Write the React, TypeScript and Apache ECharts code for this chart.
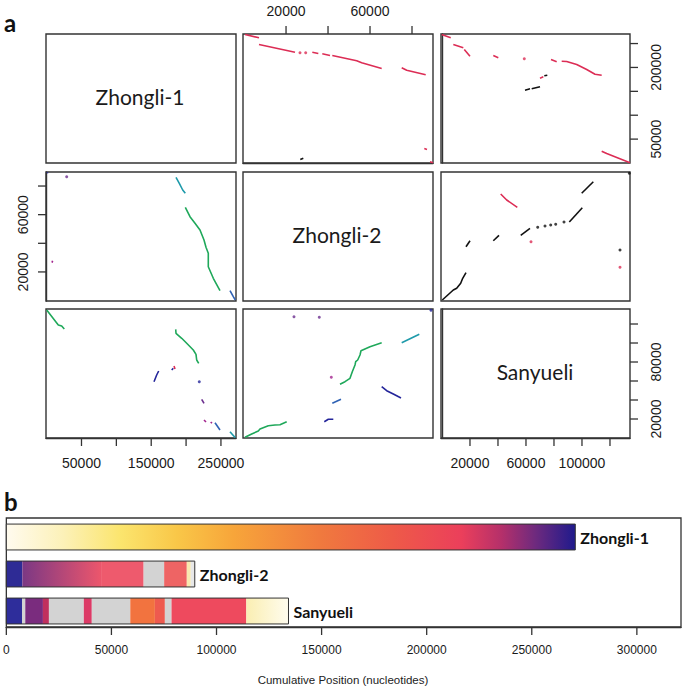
import React, { useEffect, useRef } from 'react';
import * as echarts from 'echarts';

// ---------- Genomes & axis ranges ----------
const genomes = ['Zhongli-1', 'Zhongli-2', 'Sanyueli'];
const colMin = [-900, -500, -700];
const colMax = [271600, 90000, 134300];
const rowMin = [0, -300, 0];
const rowMax = [270000, 89800, 135800];

// outer tick/label values
const z2TopTicks = [20000, 40000, 60000, 80000];
const z2TopLabels = [20000, 60000];
const z2LeftTicks = [20000, 40000, 60000, 80000];
const z2LeftLabels = [20000, 60000];
const z1RightTicks = [50000, 100000, 150000, 200000, 250000];
const z1RightLabels = [50000, 200000];
const z1BottomTicks = [50000, 100000, 150000, 200000, 250000];
const z1BottomLabels = [50000, 150000, 250000];
const syBottomTicks = [20000, 40000, 60000, 80000, 100000, 120000];
const syBottomLabels = [20000, 60000, 100000];
const syRightTicks = [20000, 40000, 60000, 80000, 100000, 120000];
const syRightLabels = [20000, 80000];

// ---------- Dot-plot match tracks (x = column genome, y = row genome) ----------
type Track = { c: string; p: number[][] };

// row Zhongli-1, col Zhongli-2
const z1VsZ2: Track[] = [
  { c: 'red', p: [[450, 268950], [7120, 262040]] },
  { c: 'red', p: [[7120, 248020], [24270, 231900]] },
  { c: 'red', p: [[26650, 230650]] },
  { c: 'red', p: [[29360, 230650]] },
  { c: 'red', p: [[32510, 231900], [35370, 229180]] },
  { c: 'red', p: [[37270, 228560], [40940, 225000]] },
  { c: 'red', p: [[42030, 225000], [53660, 213900], [56040, 209700], [65560, 197800]] },
  { c: 'red', p: [[75090, 199250], [77470, 194230], [86520, 184600]] },
  { c: 'red', p: [[85860, 30350], [87140, 28260]] },
  { c: 'red', p: [[88570, 2510], [90000, 420]] },
  { c: 'black', p: [[26790, 7330], [28220, 10050]] },
];

// row Zhongli-1, col Sanyueli
const z1VsSy: Track[] = [
  { c: 'red', p: [[-200, 269000], [6230, 262040]] },
  { c: 'red', p: [[8090, 248020], [15230, 241110]] },
  { c: 'red', p: [[15940, 237560], [20010, 223530]] },
  { c: 'red', p: [[36660, 225000], [40230, 220190]] },
  { c: 'red', p: [[58800, 218090]] },
  { c: 'red', p: [[77870, 216630], [81940, 211810]] },
  { c: 'red', p: [[85510, 213070], [89080, 212440], [96230, 206160], [103370, 195700], [109300, 185860], [114080, 183770]] },
  { c: 'red', p: [[114080, 24700], [117650, 19880], [134300, 420]] },
  { c: 'red', p: [[70020, 177490], [72370, 180410]] },
  { c: 'black', p: [[59300, 152370], [62870, 155300]] },
  { c: 'black', p: [[64090, 155300], [70020, 159490]] },
  { c: 'black', p: [[73090, 182500], [75230, 183800]] },
];

// row Zhongli-2, col Zhongli-1
const z2VsZ1: Track[] = [
  { c: 'navy', p: [[960, 88890], [1500, 89500]] },
  { c: 'purple', p: [[28790, 86510]] },
  { c: 'magenta', p: [[7700, 26500], [8600, 27800]] },
  { c: 'teal', p: [[185550, 86090], [190290, 81900], [195170, 77220], [198900, 74920]] },
  { c: 'green', p: [[198900, 65140], [205620, 58580], [212790, 53970], [219960, 49290], [225700, 42310], [228570, 37210], [231870, 33010], [231870, 23660], [239040, 15550], [248650, 6890]] },
  { c: 'blue', p: [[263000, 6890], [267730, 2700], [270600, 400]] },
];

// row Zhongli-2, col Sanyueli
const z2VsSy: Track[] = [
  { c: 'black', p: [[230, 400], [8090, 7380], [10510, 8570], [13370, 12060], [14800, 15550], [17160, 19460]] },
  { c: 'black', p: [[17160, 37620], [20010, 41810]] },
  { c: 'black', p: [[36660, 41810], [40730, 45590]] },
  { c: 'black', p: [[56230, 45590], [62870, 50470]] },
  { c: 'black', p: [[68370, 51170]] },
  { c: 'black', p: [[73590, 52080]] },
  { c: 'black', p: [[77660, 52780]] },
  { c: 'black', p: [[81230, 53270]] },
  { c: 'black', p: [[87160, 54870]] },
  { c: 'black', p: [[90940, 54870], [100230, 64860]] },
  { c: 'black', p: [[99800, 74920], [108090, 83020]] },
  { c: 'black', p: [[133800, 88890]] },
  { c: 'black', p: [[127160, 35320]] },
  { c: 'red', p: [[41940, 74430], [46230, 70240], [53800, 65140]] },
  { c: 'red', p: [[63590, 41110]] },
  { c: 'red', p: [[127160, 23240]] },
];

// row Sanyueli, col Zhongli-1
const syVsZ1: Track[] = [
  { c: 'green', p: [[100, 134750], [16740, 118960], [21620, 117900], [25350, 114740]] },
  { c: 'green', p: [[185120, 114390], [185550, 110220], [193720, 104950], [200890, 99690], [210360, 92640], [214230, 88110], [215230, 82110], [218100, 78640]] },
  { c: 'navy', p: [[154000, 59270], [157830, 66320], [160700, 70530]] },
  { c: 'navy', p: [[179380, 71580], [181700, 73370]] },
  { c: 'red', p: [[182680, 75790], [184110, 72640]] },
  { c: 'navy', p: [[218960, 59270]] },
  { c: 'purple', p: [[222400, 40740], [225700, 36530]] },
  { c: 'magenta', p: [[225700, 18950], [228570, 16840]] },
  { c: 'magenta', p: [[235300, 16840], [237180, 15470]] },
  { c: 'blue', p: [[241480, 16110], [248650, 8420]] },
  { c: 'teal', p: [[263000, 6630], [270600, 320]] },
];

// row Sanyueli, col Zhongli-2
const syVsZ2: Track[] = [
  { c: 'green', p: [[450, 740], [3640, 4210], [6790, 7370], [7600, 9470], [11550, 12950], [14740, 13690], [17120, 14000], [20310, 17160]] },
  { c: 'green', p: [[45700, 56530], [48080, 59270], [50460, 62850], [51560, 69800], [52850, 76850], [53180, 80320], [54130, 82110], [55230, 87370], [55700, 91900], [59990, 96110], [65560, 100320]] },
  { c: 'teal', p: [[75090, 100320], [83470, 109160]] },
  { c: 'navy', p: [[65560, 54000], [67940, 49790], [71090, 46320], [74760, 42110]] },
  { c: 'blue', p: [[42030, 36530], [46180, 40740]] },
  { c: 'navy', p: [[38220, 17160], [40130, 19690], [42510, 19690]] },
  { c: 'purple', p: [[23790, 127690]] },
  { c: 'purple', p: [[35840, 127060]] },
  { c: 'magenta', p: [[41560, 63900]] },
  { c: 'navy', p: [[89040, 134430]] },
];

// ---------- Panel b: cumulative position bars ----------
const barLengths = [270700, 89660, 134250]; // Zhongli-1, Zhongli-2, Sanyueli
const barRows = [3, 2, 1];
const z2Blocks = [[0, 7590], [7590, 45070], [45070, 65320], [65320, 75090], [75090, 85860], [85860, 87760], [87760, 89660]];
const syBlocks = [[0, 7450], [7450, 9010], [9010, 17410], [17410, 20260], [20260, 36860], [36860, 40660], [40660, 58970], [58970, 70680], [70680, 75430], [75430, 78600], [78600, 114180], [114180, 134250]];
const bTicks = [0, 50000, 100000, 150000, 200000, 250000, 300000];

// ---------- styles ----------
const palette: Record<string, string> = {
  red: '#DC2D55',
  black: '#111111',
  green: '#1FA85A',
  teal: '#1E9AAA',
  navy: '#24259A',
  blue: '#2F62B4',
  purple: '#6B2E8E',
  magenta: '#A3258E',
};
const GREY = '#D3D3D3';
const z1Gradient: [number, string][] = [
  [0, '#FFFBEF'], [0.1, '#FCF1B8'], [0.2, '#FBE56E'], [0.3, '#F9C748'], [0.4, '#F7A53A'],
  [0.55, '#F07A3E'], [0.68, '#EE5A48'], [0.8, '#EB3F5B'], [0.87, '#B5306A'], [0.93, '#6E2A7E'], [1, '#1F1A8C'],
];
const grad = (stops: [number, string][]) =>
  new echarts.graphic.LinearGradient(0, 0, 1, 0, stops.map(([offset, color]) => ({ offset, color })));
const z2Fills: any[] = ['#2E2B95', null, '#EE5A6D', GREY, '#EE6464', '#F8E8B0', '#E8E8E8'];
const syFills: any[] = ['#2E2D9B', GREY, '#7A2C7E', '#C0305E', GREY, '#DC3A66', GREY, '#F2733F', '#EE5A4F', GREY, '#EE4A5E', null];

const panelLeft = [46, 243, 441];
const panelTop = [34, 172, 309];
const panelW = 190;
const panelH = 129;

const AXFONT = 'Liberation Sans, Arial, sans-serif';
const LABFONT = 'Lato, "Open Sans", sans-serif';
const plain = (v: number) => String(v);

export default function App() {
  const ref = useRef<HTMLDivElement>(null);
  useEffect(() => {
    if (!ref.current) return;
    const chart = echarts.init(ref.current, null, { renderer: 'svg' });

    const grids: any[] = [];
    const xAxes: any[] = [];
    const yAxes: any[] = [];
    const series: any[] = [];

    const lineOn = { show: true, lineStyle: { color: '#333', width: 1.4 } };
    const labelBase = { fontSize: 14, fontFamily: AXFONT, color: '#1a1a1a', formatter: plain };
    const tickSpecs: { gi: number; side: string; values: number[]; r: number; c: number }[] = [];

    for (let r = 0; r < 3; r++) {
      for (let c = 0; c < 3; c++) {
        const gi = r * 3 + c;
        grids.push({
          left: panelLeft[c], top: panelTop[r], width: c === 2 ? panelW - 1 : panelW, height: panelH,
          show: true, borderColor: '#333', borderWidth: 1.4, backgroundColor: 'transparent',
        });
        const xa: any = {
          gridIndex: gi, type: 'value', min: colMin[c], max: colMax[c],
          axisLine: { show: false }, splitLine: { show: false },
          axisTick: { show: false }, axisLabel: { show: false },
        };
        if (r === 0 && c === 1) {
          xa.position = 'top';
          xa.axisLine = lineOn;
          xa.axisLabel = { show: true, customValues: z2TopLabels, margin: 16, ...labelBase };
          tickSpecs.push({ gi, side: 'top', values: z2TopTicks, r, c });
        }
        if (r === 2 && c === 0) {
          xa.axisLine = lineOn;
          xa.axisLabel = { show: true, customValues: z1BottomLabels, margin: 18, ...labelBase };
          tickSpecs.push({ gi, side: 'bottom', values: z1BottomTicks, r, c });
        }
        if (r === 2 && c === 2) {
          xa.axisLine = lineOn;
          xa.axisLabel = { show: true, customValues: syBottomLabels, margin: 18, ...labelBase };
          tickSpecs.push({ gi, side: 'bottom', values: syBottomTicks, r, c });
        }
        const ya: any = {
          gridIndex: gi, type: 'value', min: rowMin[r], max: rowMax[r],
          axisLine: { show: false }, splitLine: { show: false },
          axisTick: { show: false }, axisLabel: { show: false },
        };
        if (r === 1 && c === 0) {
          ya.axisLine = lineOn;
          ya.axisLabel = { show: true, customValues: z2LeftLabels, margin: 16, rotate: 90, ...labelBase };
          tickSpecs.push({ gi, side: 'left', values: z2LeftTicks, r, c });
        }
        if (r === 0 && c === 2) {
          ya.position = 'right';
          ya.axisLine = lineOn;
          ya.axisLabel = { show: true, customValues: z1RightLabels, margin: 19, rotate: 90, ...labelBase };
          tickSpecs.push({ gi, side: 'right', values: z1RightTicks, r, c });
        }
        if (r === 2 && c === 2) {
          ya.position = 'right';
          ya.axisLine = lineOn;
          ya.axisLabel = { show: true, customValues: syRightLabels, margin: 19, rotate: 90, ...labelBase };
          tickSpecs.push({ gi, side: 'right', values: syRightTicks, r, c });
        }
        xAxes.push(xa);
        yAxes.push(ya);
      }
    }

    const panels: [number, number, Track[]][] = [
      [0, 1, z1VsZ2], [0, 2, z1VsSy], [1, 0, z2VsZ1], [1, 2, z2VsSy], [2, 0, syVsZ1], [2, 1, syVsZ2],
    ];
    panels.forEach(([r, c, tracks]) => {
      const gi = r * 3 + c;
      tracks.forEach((t) => {
        if (t.p.length === 1) {
          series.push({
            type: 'scatter', xAxisIndex: gi, yAxisIndex: gi, data: t.p, symbolSize: 3,
            itemStyle: { color: palette[t.c] }, silent: true,
          });
        } else {
          series.push({
            type: 'line', xAxisIndex: gi, yAxisIndex: gi, data: t.p, showSymbol: false, symbol: 'none',
            lineStyle: { color: palette[t.c], width: 1.6 }, silent: true,
          });
        }
      });
    });

    // Panel b
    const bi = 9;
    grids.push({ left: 5, top: 518, width: 676, height: 109, show: true, borderColor: '#333', borderWidth: 1.3, backgroundColor: 'transparent' });
    xAxes.push({
      gridIndex: bi, type: 'value', min: 0, max: 321000, interval: 50000,
      axisLine: lineOn, splitLine: { show: false },
      axisTick: { show: false },
      axisLabel: { show: true, customValues: bTicks, margin: 17, fontSize: 12, fontFamily: AXFONT, color: '#1a1a1a', formatter: plain },
    });
    yAxes.push({ gridIndex: bi, type: 'value', min: 0.568, max: 3.514, show: false });
    tickSpecs.push({ gi: bi, side: 'bottom', values: bTicks, r: -1, c: -1 });

    // outer ticks drawn through each panel's own scales
    tickSpecs.forEach((spec) => {
      const xMin = spec.c >= 0 ? colMin[spec.c] : 0;
      const xMax = spec.c >= 0 ? colMax[spec.c] : 321000;
      const yMin = spec.r >= 0 ? rowMin[spec.r] : 0.568;
      const yMax = spec.r >= 0 ? rowMax[spec.r] : 3.514;
      const vertical = spec.side === 'left' || spec.side === 'right';
      const data = spec.values.map((v) => {
        if (spec.side === 'top') return [v, yMax];
        if (spec.side === 'bottom') return [v, yMin];
        if (spec.side === 'left') return [xMin, v];
        return [xMax, v];
      });
      series.push({
        type: 'custom', xAxisIndex: spec.gi, yAxisIndex: spec.gi, silent: true, clip: false, z: 4,
        encode: { x: 0, y: 1 },
        data,
        renderItem: (params: any, api: any) => {
          const d = data[params.dataIndex];
          const p = api.coord(d);
          let x2 = p[0], y2 = p[1];
          if (spec.side === 'top') y2 -= 8;
          if (spec.side === 'bottom') y2 += 8;
          if (spec.side === 'left') x2 -= 8;
          if (spec.side === 'right') x2 += 8;
          return {
            type: 'line',
            shape: { x1: p[0], y1: p[1], x2, y2 },
            style: { stroke: '#333', lineWidth: 1.3 },
          };
        },
      });
      void vertical;
    });

    const blockData: any[] = [];
    blockData.push([barRows[0], 0, barLengths[0], 'z1']);
    z2Blocks.forEach((b, i) => blockData.push([barRows[1], b[0], b[1], 'z2_' + i]));
    syBlocks.forEach((b, i) => blockData.push([barRows[2], b[0], b[1], 'sy_' + i]));

    const fillFor = (key: string) => {
      if (key === 'z1') return grad(z1Gradient);
      const [g, idx] = key.split('_');
      const i = Number(idx);
      if (g === 'z2') return z2Fills[i] ?? grad([[0, '#7B3884'], [1, '#EC566C']]);
      return syFills[i] ?? grad([[0, '#FAEEB2'], [1, '#FFFCEE']]);
    };

    series.push({
      type: 'custom', xAxisIndex: bi, yAxisIndex: bi, silent: true,
      encode: { x: [1, 2], y: 0 },
      data: blockData,
      renderItem: (params: any, api: any) => {
        const idx = params.dataIndex;
        const d = blockData[idx];
        const p0 = api.coord([d[1], d[0] + 0.35]);
        const p1 = api.coord([d[2], d[0] - 0.35]);
        return {
          type: 'rect',
          shape: { x: p0[0], y: p0[1], width: p1[0] - p0[0], height: p1[1] - p0[1] },
          style: { fill: fillFor(d[3]) },
        };
      },
    });
    const outlineData = barRows.map((row, i) => [row, 0, barLengths[i]]);
    series.push({
      type: 'custom', xAxisIndex: bi, yAxisIndex: bi, silent: true, z: 5,
      encode: { x: [1, 2], y: 0 },
      data: outlineData,
      renderItem: (params: any, api: any) => {
        const d = outlineData[params.dataIndex];
        const p0 = api.coord([d[1], d[0] + 0.35]);
        const p1 = api.coord([d[2], d[0] - 0.35]);
        return {
          type: 'rect',
          shape: { x: p0[0], y: p0[1], width: p1[0] - p0[0], height: p1[1] - p0[1] },
          style: { fill: 'none', stroke: '#333', lineWidth: 1 },
        };
      },
    });
    // bar name labels
    series.push({
      type: 'custom', xAxisIndex: bi, yAxisIndex: bi, silent: true, z: 6,
      encode: { x: 1, y: 0 },
      data: barRows.map((row, i) => [row, barLengths[i], i]),
      renderItem: (params: any, api: any) => {
        const i = params.dataIndex;
        const p = api.coord([barLengths[i], barRows[i]]);
        return {
          type: 'text', x: p[0] + 5, y: p[1],
          style: { text: genomes[i], fontSize: 16, fontWeight: 'bold', fontFamily: LABFONT, fill: '#111', align: 'left', verticalAlign: 'middle' },
        };
      },
    });

    const graphic: any[] = [
      { type: 'text', left: 4, top: 10, style: { text: 'a', fontSize: 24, fontWeight: 'bold', fontFamily: LABFONT, fill: '#111' } },
      { type: 'text', left: 4, top: 489, style: { text: 'b', fontSize: 24, fontWeight: 'bold', fontFamily: LABFONT, fill: '#111' } },
      { type: 'text', x: 343, y: 680, style: { text: 'Cumulative Position (nucleotides)', fontSize: 11.5, fontFamily: AXFONT, fill: '#222', align: 'center', verticalAlign: 'middle' } },
    ];
    genomes.forEach((g, i) => {
      graphic.push({
        type: 'text', x: panelLeft[i] + panelW / 2 - 1, y: panelTop[i] + panelH / 2 - 2,
        style: { text: g, fontSize: 21, fontFamily: LABFONT, fill: '#1a1a1a', align: 'center', verticalAlign: 'middle' },
      });
    });

    chart.setOption({
      animation: false,
      backgroundColor: '#fff',
      grid: grids,
      xAxis: xAxes,
      yAxis: yAxes,
      series,
      graphic,
    });
    return () => chart.dispose();
  }, []);
  return <div ref={ref} style={{ width: 685, height: 689, position: 'absolute', left: 0, top: 0 }} />;
}
